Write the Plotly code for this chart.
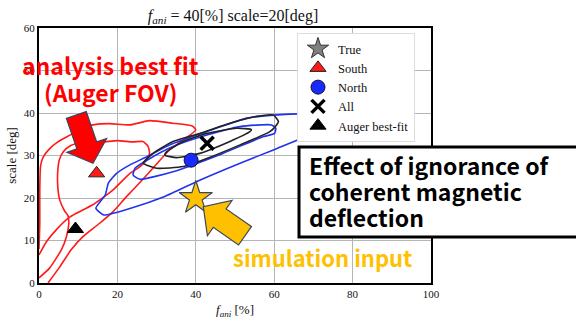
import math
import plotly.graph_objects as go

# ---------------- data ----------------
red_outer_x = [0.0, 0.2, 0.2, 0.4, 1.0, 2.6, 4.8, 7.9, 11.2, 13.7, 18.0, 23.2, 28.2, 34.1, 39.2, 40.0, 37.6, 33.3, 30.0, 26.5, 22.2, 18.9, 15.4, 11.2, 8.2, 5.3, 2.3]
red_outer_y = [8.0, 14.0, 22.0, 27.5, 29.5, 31.5, 33.2, 34.8, 36.5, 37.2, 37.5, 37.2, 38.2, 37.6, 36.9, 36.0, 34.2, 31.3, 28.0, 24.4, 20.2, 16.8, 14.0, 10.9, 7.8, 3.8, 0.0]

red_inner_x = [0.0, 2.7, 5.7, 7.0, 7.6, 7.4, 6.5, 5.3, 4.8, 4.8, 5.2, 6.2, 8.0, 10.5, 13.0, 16.3, 20.0, 23.9, 26.5, 27.8, 28.2, 27.4, 25.5, 23.2, 18.9, 13.7, 9.5, 7.4, 4.4, 1.9, 0.0]
red_inner_y = [1.2, 3.5, 7.8, 10.9, 14.0, 15.8, 17.0, 19.5, 22.5, 26.5, 29.0, 30.9, 32.3, 33.0, 33.2, 33.2, 33.5, 33.2, 33.3, 32.2, 30.5, 28.9, 27.2, 25.8, 21.9, 18.4, 16.4, 15.2, 12.5, 9.7, 6.6]

blue_outer_x = [14.5, 16.9, 17.7, 19.8, 23.2, 27.5, 33.4, 40.2, 47.0, 53.0, 59.8, 65.8, 72.0, 76.0, 78.0, 77.0, 70.9, 65.8, 59.8, 51.3, 41.0, 31.9, 23.4, 16.5, 14.5]
blue_outer_y = [17.6, 20.7, 23.5, 25.8, 27.8, 29.7, 32.5, 34.8, 37.0, 38.8, 39.5, 39.8, 39.8, 39.5, 38.5, 37.0, 35.2, 33.6, 31.3, 28.2, 24.2, 20.3, 17.6, 16.0, 17.6]

blue_inner_x = [24.0, 25.7, 34.2, 46.9, 57.1, 60.1, 60.4, 59.3, 51.3, 42.8, 34.2, 28.3, 24.5, 24.0]
blue_inner_y = [25.4, 24.4, 26.2, 30.5, 34.4, 35.2, 36.4, 37.2, 36.8, 34.8, 32.1, 29.3, 27.0, 25.4]

black_outer_x = [26.6, 30.0, 36.8, 42.8, 51.3, 58.9, 60.6, 61.1, 59.8, 55.5, 48.7, 41.0, 34.2, 29.1, 26.6]
black_outer_y = [28.2, 27.0, 27.4, 29.3, 32.5, 35.6, 37.2, 38.0, 39.5, 39.2, 37.6, 35.2, 33.3, 30.5, 28.2]

black_inner_x = [32.1, 35.1, 41.0, 48.7, 53.8, 54.2, 50.4, 42.8, 36.8, 32.6, 32.1]
black_inner_y = [30.1, 29.5, 30.5, 33.3, 35.6, 36.1, 36.4, 35.2, 33.3, 30.9, 30.1]

true_pt = (40, 20)
south_pt = (14.7, 25.8)
north_pt = (38.8, 28.9)
all_pt = (42.9, 32.9)
auger_pt = (9.3, 12.7)

x_ticks = [0, 20, 40, 60, 80, 100]
y_ticks = [0, 10, 20, 30, 40, 50, 60]

# ---------------- layout helpers (pixel -> paper) ----------------
W, H = 576, 322
PL, PR, PT, PB = 39, 431, 28, 283


def px(xp):
    return (xp - PL) / (PR - PL)


def py(yp):
    return (PB - yp) / (PB - PT)


def block_arrow(tail, tip, shaft_w, head_w, head_len):
    dx, dy = tip[0] - tail[0], tip[1] - tail[1]
    L = math.hypot(dx, dy)
    ux, uy = dx / L, dy / L
    nx, ny = -uy, ux
    bx, by = tip[0] - ux * head_len, tip[1] - uy * head_len
    pts = [
        (tail[0] + nx * shaft_w / 2, tail[1] + ny * shaft_w / 2),
        (bx + nx * shaft_w / 2, by + ny * shaft_w / 2),
        (bx + nx * head_w / 2, by + ny * head_w / 2),
        tip,
        (bx - nx * head_w / 2, by - ny * head_w / 2),
        (bx - nx * shaft_w / 2, by - ny * shaft_w / 2),
        (tail[0] - nx * shaft_w / 2, tail[1] - ny * shaft_w / 2),
    ]
    return "M " + " L ".join(f"{px(a):.4f},{py(b):.4f}" for a, b in pts) + " Z"


fig = go.Figure()

line_w = 1.6
for xs, ys, col in [
    (red_outer_x, red_outer_y, "#ff1a1a"),
    (red_inner_x, red_inner_y, "#ff1a1a"),
    (blue_outer_x, blue_outer_y, "#2233ee"),
    (blue_inner_x, blue_inner_y, "#2233ee"),
    (black_outer_x, black_outer_y, "#222222"),
    (black_inner_x, black_inner_y, "#222222"),
]:
    fig.add_trace(go.Scatter(x=xs, y=ys, mode="lines",
                             line=dict(color=col, width=line_w, shape="spline", smoothing=0.5),
                             showlegend=False, hoverinfo="skip"))

fig.add_trace(go.Scatter(x=[true_pt[0]], y=[true_pt[1]], mode="markers", name="True",
                         marker=dict(symbol="star", size=16, color="#808080", line=dict(color="#333333", width=1))))
fig.add_trace(go.Scatter(x=[south_pt[0]], y=[south_pt[1]], mode="markers", name="South",
                         marker=dict(symbol="triangle-up", size=14, color="#ff1a1a", line=dict(color="#222222", width=1))))
fig.add_trace(go.Scatter(x=[north_pt[0]], y=[north_pt[1]], mode="markers", name="North",
                         marker=dict(symbol="circle", size=14, color="#1a2aff", line=dict(color="#111133", width=1))))
fig.add_trace(go.Scatter(x=[all_pt[0]], y=[all_pt[1]], mode="markers", name="All",
                         marker=dict(symbol="x-thin", size=13, color="#000000", line=dict(color="#000000", width=3.5))))
fig.add_trace(go.Scatter(x=[auger_pt[0]], y=[auger_pt[1]], mode="markers", name="Auger best-fit",
                         marker=dict(symbol="triangle-up", size=14, color="#000000", line=dict(color="#000000", width=1))))
# gold "simulation input" star on top of the true point
fig.add_trace(go.Scatter(x=[true_pt[0]], y=[true_pt[1]], mode="markers", showlegend=False, hoverinfo="skip",
                         marker=dict(symbol="star", size=25, color="#ffc000", line=dict(color="#3a4660", width=1.2))))

shapes = [
    dict(type="path", xref="paper", yref="paper",
         path=block_arrow((76.3, 115.0), (93.0, 163.3), 21, 42, 19),
         fillcolor="#ff0000", line=dict(color="#3a4660", width=1.2)),
    dict(type="path", xref="paper", yref="paper",
         path=block_arrow((245.0, 235.8), (203.3, 206.7), 22.5, 43, 20),
         fillcolor="#ffc000", line=dict(color="#3a4660", width=1.2)),
    dict(type="rect", xref="paper", yref="paper", x0=px(299), x1=px(590), y0=py(237), y1=py(147),
         fillcolor="white", line=dict(color="black", width=3)),
]

JP = "Noto Sans CJK JP"


def txt(x, y, s, size, color, anchor="center"):
    return dict(xref="paper", yref="paper", x=px(x), y=py(y), text=f"<b>{s}</b>",
                showarrow=False, font=dict(family=JP, size=size, color=color),
                xanchor=anchor, yanchor="middle")


annotations = [
    txt(110, 65, "analysis best fit", 23, "#ff0000"),
    txt(110, 92, "(Auger FOV)", 23, "#ff0000"),
    txt(322, 257, "simulation input", 22, "#ffc000"),
    txt(307, 165, "Effect of ignorance of", 23, "#000000", "left"),
    txt(307, 191, "coherent magnetic", 23, "#000000", "left"),
    txt(307, 217, "deflection", 23, "#000000", "left"),
]

SERIF = "Liberation Serif"
fig.update_layout(
    width=W, height=H,
    margin=dict(l=PL, r=W - PR, t=PT, b=H - PB, autoexpand=False),
    paper_bgcolor="white", plot_bgcolor="white",
    title=dict(text="<i>f</i><sub><i>ani</i></sub> = 40[%] scale=20[deg]", x=233 / W,
               xanchor="center", y=1 - 15 / H, yanchor="middle", yref="container",
               font=dict(family=SERIF, size=16, color="#111")),
    font=dict(family=SERIF, color="#111"),
    shapes=shapes,
    annotations=annotations,
    legend=dict(x=px(297), y=py(33), xanchor="left", yanchor="top", bgcolor="white",
                bordercolor="#dddddd", borderwidth=1, font=dict(family=SERIF, size=12.5, color="#111"),
                tracegroupgap=0, itemwidth=30),
)
fig.update_xaxes(range=[0, 100], tickvals=x_ticks, ticktext=[str(v) for v in x_ticks],
                 showgrid=True, gridcolor="#b5b5b5", gridwidth=1, zeroline=False, automargin=False,
                 showline=True, linecolor="black", linewidth=2, mirror=True, ticks="",
                 tickfont=dict(family=SERIF, size=11, color="#111"),
                 title=dict(text="<i>f</i><sub><i>ani</i></sub> [%]", font=dict(family=SERIF, size=13), standoff=6))
fig.update_yaxes(range=[0, 60], tickvals=y_ticks, ticktext=[str(v) for v in y_ticks],
                 showgrid=True, gridcolor="#b5b5b5", gridwidth=1, zeroline=False, automargin=False,
                 showline=True, linecolor="black", linewidth=2, mirror=True, ticks="",
                 tickfont=dict(family=SERIF, size=11, color="#111"),
                 title=dict(text="scale [deg]", font=dict(family=SERIF, size=13), standoff=4))

fig.write_html("out.html", config={"displayModeBar": False},
               post_script="document.body.style.margin='0';document.body.style.padding='0';")
